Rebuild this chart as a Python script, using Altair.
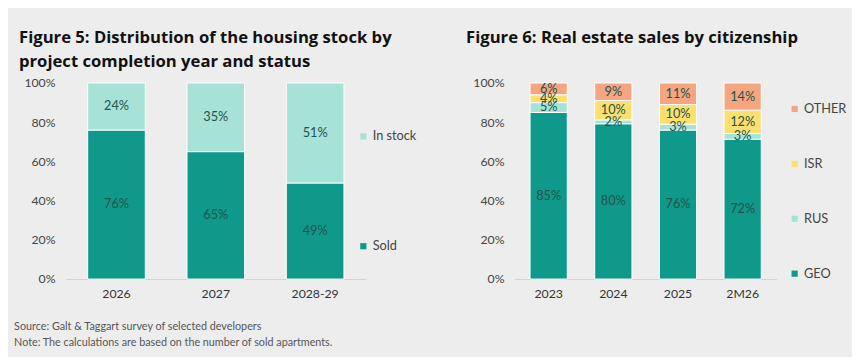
import altair as alt
import pandas as pd

# ---------------- data ----------------
left_years = ["2026", "2027", "2028-29"]
left_sold = [76, 65, 49]
left_stock = [24, 35, 51]

right_years = ["2023", "2024", "2025", "2M26"]
geo = [85, 80, 76, 72]
rus = [5, 2, 3, 3]
isr = [4, 10, 10, 12]
other = [6, 9, 11, 14]

# ---------------- style ----------------
BG = "#ededed"
TEAL = "#0f998b"
LIGHT = "#a7e2d7"
ORANGE = "#f5a681"
YELLOW = "#fbe06f"
LBL = "#23534c"
FONT = "Lato"
TFONT = "Open Sans"

rows = []
for i, y in enumerate(left_years):
    rows.append({"year": y, "status": "Sold", "value": left_sold[i], "ord": 0})
    rows.append({"year": y, "status": "In stock", "value": left_stock[i], "ord": 1})
left_df = pd.DataFrame(rows)

rows = []
for i, y in enumerate(right_years):
    for k, (name, arr) in enumerate([("GEO", geo), ("RUS", rus), ("ISR", isr), ("OTHER", other)]):
        rows.append({"year": y, "cit": name, "value": arr[i], "ord": k})
right_df = pd.DataFrame(rows)


def stacked(df, cat, years, domain, rng, width, pin, pout, legend_x, legend_y, row_pad,
            title, title_offset, title_dx):
    base = alt.Chart(df)
    yscale = alt.Scale(domain=[0, 1])
    xscale = alt.Scale(paddingInner=pin, paddingOuter=pout)
    xaxis = alt.Axis(title=None, labelAngle=0, ticks=False, domainColor="#d2d2d2",
                     labelColor="#333333", labelFontSize=12.5, labelPadding=9, labelFont=FONT)
    yaxis = alt.Axis(title=None, format=".0%", values=[0, 0.2, 0.4, 0.6, 0.8, 1.0],
                     labelOverlap=False, labelFlush=False,
                     domain=False, ticks=False, grid=False, labelColor="#444444",
                     labelFontSize=12.5, labelPadding=11, labelFont=FONT)
    bars = base.mark_bar(stroke="white", strokeWidth=1).encode(
        x=alt.X("year:N", sort=years, scale=xscale, axis=xaxis),
        y=alt.Y("value:Q", stack="normalize", scale=yscale, axis=yaxis),
        color=alt.Color(f"{cat}:N", scale=alt.Scale(domain=domain, range=rng),
                        legend=alt.Legend(title=None, orient="none", legendX=legend_x, legendY=legend_y,
                                          symbolType="square", symbolSize=40, symbolStrokeWidth=0,
                                          labelFontSize=13, labelColor="#444444", labelFont=FONT,
                                          rowPadding=row_pad, labelOffset=3)),
        order=alt.Order("ord:Q"),
    )
    labels = base.transform_joinaggregate(
        total="sum(value)", groupby=["year"]
    ).transform_calculate(
        frac="datum.value / datum.total", lab="datum.value + '%'"
    ).transform_window(
        cum="sum(frac)", sort=[alt.SortField("ord")], groupby=["year"], frame=[None, 0]
    ).transform_calculate(
        mid="datum.cum - datum.frac / 2"
    ).mark_text(fontSize=13, color=LBL, font=FONT).encode(
        x=alt.X("year:N", sort=years, scale=xscale, axis=xaxis),
        y=alt.Y("mid:Q", scale=yscale, axis=yaxis),
        text="lab:N",
    )
    return alt.layer(bars, labels).properties(
        width=width, height=200,
        title=alt.TitleParams(text=title, anchor="start", frame="bounds", fontSize=17,
                              fontWeight="bold", color="#111111", font=TFONT, lineHeight=25,
                              offset=title_offset, dx=title_dx),
    )


left = stacked(left_df, "status", left_years, ["In stock", "Sold"], [LIGHT, TEAL],
               306, 0.42, 0.22, 297, 48, 98,
               ["Figure 5:  Distribution of the housing stock by", "project completion year and status"],
               6, -5)
right = stacked(right_df, "cit", right_years, ["OTHER", "ISR", "RUS", "GEO"],
                [ORANGE, YELLOW, LIGHT, TEAL], 267, 0.424, 0.236, 279, 20, 42,
                "Figure 6:  Real estate sales by citizenship", 31, -7)

chart = alt.hconcat(left, right, spacing=50).resolve_scale(color="independent").properties(
    title=alt.TitleParams(
        text=["Source:  Galt & Taggart survey of selected developers",
              "Note: The calculations are based on the number of sold apartments."],
        orient="bottom", anchor="start", frame="bounds", fontSize=11, fontWeight="normal",
        color="#555555", font=FONT, lineHeight=17, offset=21, dx=-5),
    padding={"left": 6, "top": 18, "right": 5, "bottom": 5},
).configure(background=BG).configure_view(stroke=None)

chart.save("out.html", embed_options={"renderer": "svg", "actions": False})
